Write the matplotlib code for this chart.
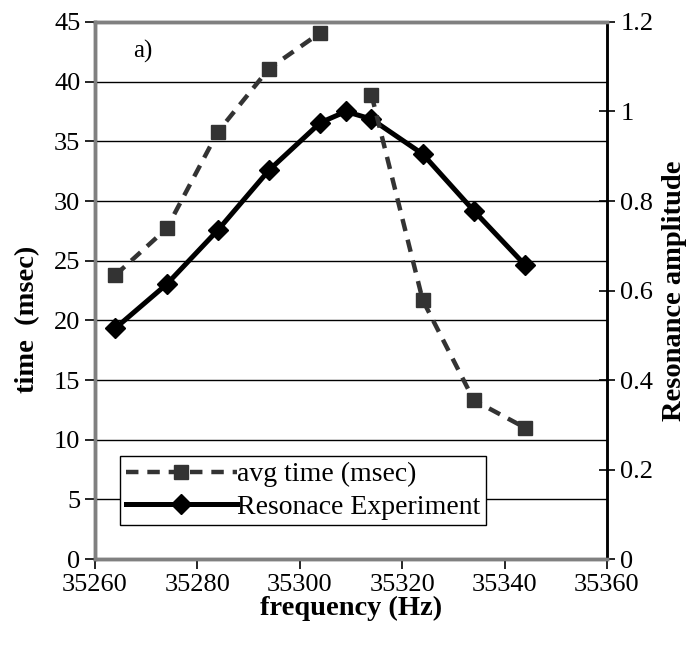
import matplotlib.pyplot as plt
import numpy as np

# shared frequency points (Hz)
freq = [35264, 35274, 35284, 35294, 35304, 35309, 35314, 35324, 35334, 35344]

# avg time (msec) - left axis, no value at 35309
avg_time = [23.8, 27.7, 35.8, 41.1, 44.1, np.nan, 38.9, 21.7, 13.3, 11.0]

# resonance amplitude - right axis
amplitude = [0.516, 0.614, 0.735, 0.869, 0.975, 1.0, 0.983, 0.905, 0.778, 0.657]

plt.rcParams['font.family'] = ['Liberation Serif', 'DejaVu Serif']

fig = plt.figure(figsize=(6.9, 6.47), dpi=100)
ax = fig.add_axes([0.1377, 0.136, 0.742, 0.830])
ax2 = ax.twinx()

# time axis on top so the dashed series draws over the solid one
ax.set_zorder(ax2.get_zorder() + 1)
ax.patch.set_visible(False)

cinza = '#333333'
l1, = ax.plot(freq, avg_time, color=cinza, lw=3.2, linestyle=(0, (2.8, 2.0)),
              marker='s', markersize=10.5, markerfacecolor=cinza, markeredgecolor=cinza,
              label='avg time (msec)')
l2, = ax2.plot(freq, amplitude, color='black', lw=3.6, marker='D', markersize=10,
               label='Resonace Experiment')

ax.set_xlim(35260, 35360)
ax.set_ylim(0, 45)
ax2.set_ylim(0, 1.2)
ax.set_xticks(np.arange(35260, 35361, 20))
ax.set_yticks(np.arange(0, 46, 5))
ax2.set_yticks(np.arange(0, 1.21, 0.2))
ax2.set_yticklabels(['0', '0.2', '0.4', '0.6', '0.8', '1', '1.2'])

ax.yaxis.grid(True, color='black', lw=1)
ax.set_axisbelow(True)

for a in (ax, ax2):
    for s in ('left', 'top', 'bottom'):
        a.spines[s].set_color('#808080')
        a.spines[s].set_linewidth(2.5)
    a.spines['right'].set_color('black')
    a.spines['right'].set_linewidth(1.8)

ax.tick_params(axis='both', labelsize=19, direction='out', length=7, width=1.2, color='black')
ax2.tick_params(axis='y', labelsize=19, direction='inout', length=12, width=1.2, color='black')

ax.set_xlabel('frequency (Hz)', fontsize=20.5, fontweight='bold', labelpad=0)
ax.set_ylabel('time  (msec)', fontsize=20.5, fontweight='bold')
ax.yaxis.set_label_coords(-0.108, 0.447)
ax2.set_ylabel('Resonance amplitude', fontsize=20.5, fontweight='bold', labelpad=6)

ax.text(35269.4, 42.5, 'a)', fontsize=18, ha='center', va='center')

leg = ax.legend(handles=[l1, l2], loc='lower left', bbox_to_anchor=(0.049, 0.063),
                fontsize=20, frameon=True, fancybox=False, framealpha=1,
                edgecolor='black', handlelength=4.0, handletextpad=0.0,
                borderpad=0.2, labelspacing=0.25, borderaxespad=0)
leg.get_frame().set_linewidth(1.0)

fig.savefig('out.png', dpi=100)
